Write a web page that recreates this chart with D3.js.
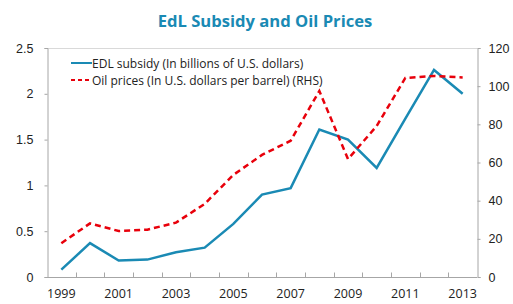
<!DOCTYPE html>
<html>
<head>
<meta charset="utf-8">
<script src="https://cdn.jsdelivr.net/npm/d3@7"></script>
<style>
  body { margin: 0; background: #fff; }
  svg { display: block; font-family: "Open Sans", "Noto Sans", sans-serif; }
  .tick text { fill: #222; font-size: 12.5px; }
</style>
</head>
<body>
<svg id="chart" width="513" height="304"></svg>
<script>
  const years = [1999, 2000, 2001, 2002, 2003, 2004, 2005, 2006, 2007, 2008, 2009, 2010, 2011, 2012, 2013];
  const subsidy = [0.08, 0.37, 0.18, 0.19, 0.27, 0.32, 0.58, 0.90, 0.97, 1.61, 1.50, 1.19, 1.73, 2.26, 2.00];
  const oil = [17.7, 28.1, 24.1, 24.8, 28.5, 38.3, 53.5, 64.0, 71.4, 97.5, 61.8, 79.1, 104.3, 105.3, 104.6];
  const leftTicks = [0, 0.5, 1, 1.5, 2, 2.5];
  const rightTicks = [0, 20, 40, 60, 80, 100, 120];
  const labelYears = [1999, 2001, 2003, 2005, 2007, 2009, 2011, 2013];

  const blue = '#1a8ab4';
  const red = '#e8000b';
  const axisGrey = '#a6a6a6';

  const svg = d3.select('#chart');
  const m = { left: 47, right: 477, top: 48, bottom: 277 };

  const x = d3.scaleBand().domain(years).range([m.left, m.right]);
  const yL = d3.scaleLinear().domain([0, 2.5]).range([m.bottom, m.top]);
  const yR = d3.scaleLinear().domain([0, 120]).range([m.bottom, m.top]);
  const cx = d => x(d) + x.bandwidth() / 2;

  svg.append('text')
    .attr('x', 265).attr('y', 27)
    .attr('text-anchor', 'middle')
    .attr('font-size', 16.6).attr('font-weight', 'bold')
    .attr('fill', '#1a8ab4')
    .text('EdL Subsidy and Oil Prices');

  // plot frame (top border light)
  svg.append('line')
    .attr('x1', m.left).attr('x2', m.right).attr('y1', m.top + 0.5).attr('y2', m.top + 0.5)
    .attr('stroke', '#d9d9d9');

  // left axis
  const gL = svg.append('g').attr('transform', `translate(${m.left + 0.5},0)`)
    .call(d3.axisLeft(yL).tickValues(leftTicks).tickSize(3).tickPadding(11).tickFormat(d3.format('')));
  // right axis
  const gR = svg.append('g').attr('transform', `translate(${m.right + 0.5},0)`)
    .call(d3.axisRight(yR).tickValues(rightTicks).tickSize(3).tickPadding(8));
  [gL, gR].forEach(g => {
    g.select('.domain').attr('stroke', axisGrey);
    g.selectAll('.tick line').attr('stroke', axisGrey);
  });

  // bottom axis: inward ticks at category boundaries
  const gB = svg.append('g').attr('transform', `translate(0,${m.bottom + 0.5})`);
  gB.append('line').attr('x1', m.left).attr('x2', m.right).attr('stroke', axisGrey);
  gB.selectAll('line.tk').data(years.slice(1)).join('line').attr('class', 'tk')
    .attr('x1', d => Math.round(x(d)) + 0.5).attr('x2', d => Math.round(x(d)) + 0.5)
    .attr('y1', 0).attr('y2', -5).attr('stroke', axisGrey);
  gB.selectAll('text').data(labelYears).join('text')
    .attr('x', d => cx(d)).attr('y', 20)
    .attr('text-anchor', 'middle').attr('font-size', 12.5).attr('fill', '#222')
    .text(d => d);

  const lineL = d3.line().x((d, i) => cx(years[i])).y(d => yL(d));
  const lineR = d3.line().x((d, i) => cx(years[i])).y(d => yR(d));

  svg.append('path').datum(subsidy).attr('d', lineL)
    .attr('fill', 'none').attr('stroke', blue).attr('stroke-width', 2.5);
  svg.append('path').datum(oil).attr('d', lineR)
    .attr('fill', 'none').attr('stroke', red).attr('stroke-width', 2.5)
    .attr('stroke-dasharray', '6,4');

  // legend
  const legend = [
    { label: 'EDL subsidy (In billions of U.S. dollars)', color: blue, dash: null },
    { label: 'Oil prices (In U.S. dollars per barrel) (RHS)', color: red, dash: '4,3' }
  ];
  const lg = svg.append('g').selectAll('g').data(legend).join('g')
    .attr('transform', (d, i) => `translate(71,${63 + i * 17})`);
  lg.append('line').attr('x1', 0).attr('x2', 21)
    .attr('stroke', d => d.color).attr('stroke-width', 2)
    .attr('stroke-dasharray', d => d.dash);
  lg.append('text').attr('x', 21).attr('y', 4.5)
    .attr('font-size', 12).attr('fill', '#222')
    .text(d => d.label);
</script>
</body>
</html>
